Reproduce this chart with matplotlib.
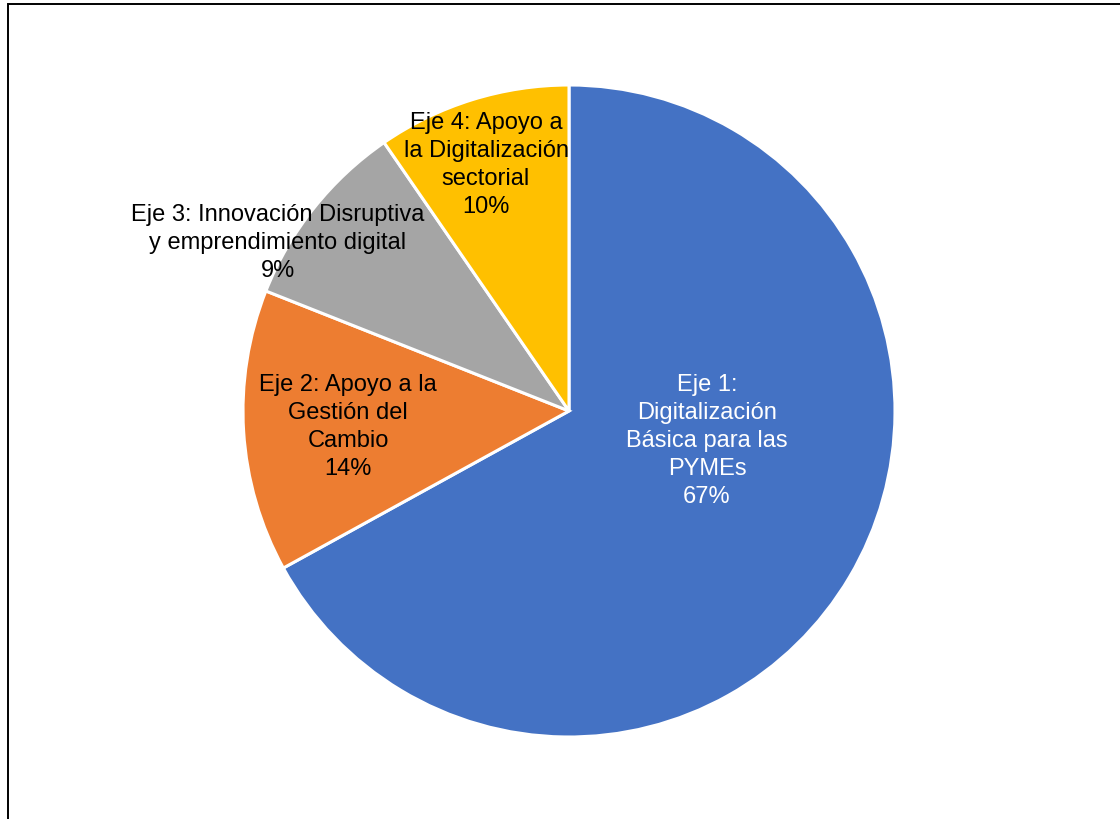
import matplotlib
matplotlib.use("Agg")
import matplotlib.pyplot as plt
from matplotlib.patches import Rectangle

plt.rcParams['font.family'] = ['Liberation Sans', 'DejaVu Sans']

categories = ["Eje 1:\nDigitalización\nBásica para las\nPYMEs",
              "Eje 2: Apoyo a la\nGestión del\nCambio",
              "Eje 3: Innovación Disruptiva\ny emprendimiento digital",
              "Eje 4: Apoyo a\nla Digitalización\nsectorial"]
values = [67.0, 14.0, 9.4, 9.6]
colors = ["#4472C4", "#ED7D31", "#A5A5A5", "#FFC000"]
text_colors = ["white", "black", "black", "black"]
# label offsets from the pie centre, in pixels (dx right, dy up)
label_offsets = [(138, -29), (-221, -15), (-291, 169), (-83, 247)]

W, H = 1120, 820
fig = plt.figure(figsize=(W / 100, H / 100), dpi=100)
ax = fig.add_axes([0, 0, 1, 1])

cx, cy, R = 569, H - 412, 326
wedges, _ = ax.pie(values, colors=colors, startangle=90, counterclock=False,
                   center=(cx, cy), radius=R, frame=True,
                   wedgeprops=dict(edgecolor='white', linewidth=2.2))
ax.set_xlim(0, W)
ax.set_ylim(0, H)
ax.set_aspect('equal')
ax.axis('off')

total = sum(values)
for cat, v, tc, (dx, dy) in zip(categories, values, text_colors, label_offsets):
    ax.text(cx + dx, cy + dy, f"{cat}\n{round(100 * v / total)}%", ha='center', va='center',
            fontsize=17, color=tc, linespacing=1.345)

fig.patches.append(Rectangle((8 / W, -0.1), 1.2, 1.1 - 5 / H, transform=fig.transFigure,
                             fill=False, edgecolor='black', linewidth=1.4, figure=fig))

fig.savefig("out.png", dpi=100)
